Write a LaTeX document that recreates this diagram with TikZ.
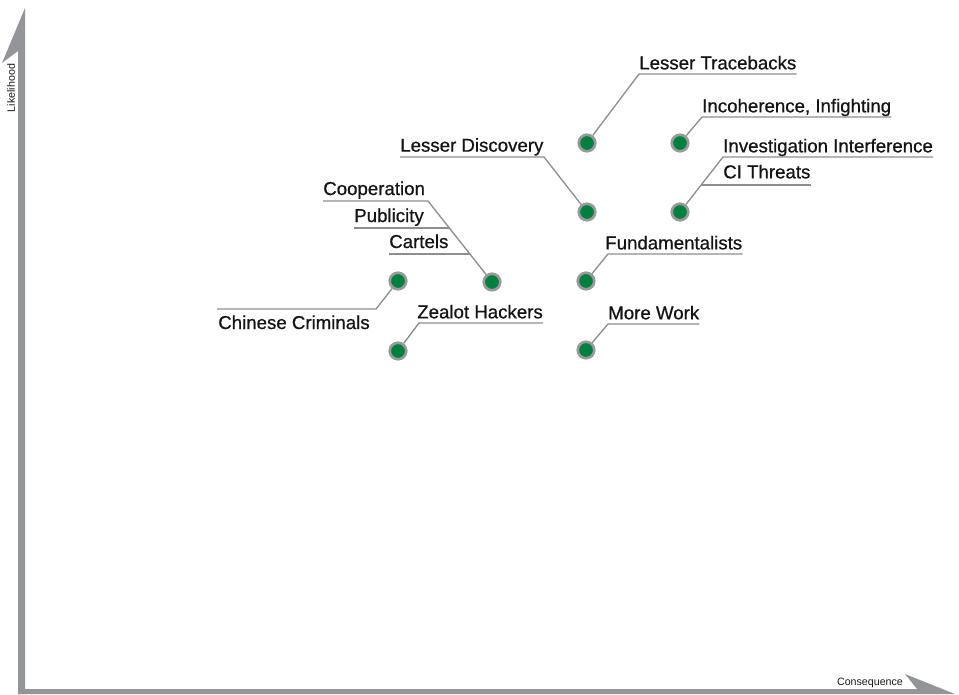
\documentclass[tikz,border=0pt]{standalone}
\usepackage{fontspec}
\setmainfont{Liberation Sans}
\newfontfamily\lblfont{Liberation Sans}[FakeBold=0.7]
\usetikzlibrary{positioning}
\definecolor{axisgray}{HTML}{939598}
\definecolor{leadgray}{HTML}{8E8E8E}
\definecolor{ringgray}{HTML}{9A9A9A}
\definecolor{riskgreen}{HTML}{00803E}

\begin{document}
\begin{tikzpicture}[x=0.75pt, y=-0.75pt,
	dot/.style={circle, fill=riskgreen, draw=ringgray, line width=2pt, minimum size=12.4pt, inner sep=0pt},
	lbl/.style={inner sep=0pt, font=\lblfont\fontsize{14}{16}\selectfont, text=black!92},
	axlbl/.style={inner sep=0pt, font=\fontsize{8}{9}\selectfont, text=black!90},
	lead/.style={draw=leadgray, line width=1pt}]
			%%%%% START %%%%%
			
			\useasboundingbox (0, 0) rectangle (959, 694);
			
			\fill[axisgray] (25, 694) -- (25, 8) -- (2, 63) -- (18, 51) -- (18, 694) -- cycle;
			\fill[axisgray] (18, 689) -- (917, 689) -- (905, 674) -- (955, 694) -- (18, 694) -- cycle;
			
			\node[axlbl, rotate=90] (likely) at (11, 88) {Likelihood};
			\node[axlbl] (conseq) at (870, 683) {Consequence};
			
			\node[dot] (tb) at (587, 143) {};
			\coordinate (tbk) at (639, 74);
			\node[lbl, anchor=base west, yshift=3.5pt] (tbl) at (tbk) {Lesser Tracebacks};
			\draw[lead] (tb) -- (tbk) -- (tbk -| tbl.east);
			
			\node[dot] (inc) at (680, 143) {};
			\coordinate (inck) at (702, 117);
			\node[lbl, anchor=base west, yshift=3.5pt] (incl) at (inck) {Incoherence, Infighting};
			\draw[lead] (inc) -- (inck) -- (inck -| incl.east);
			
			\node[dot] (ci) at (680, 212) {};
			\coordinate (ivk) at (723, 157);
			\coordinate (cik) at (701, 185);
			\node[lbl, anchor=base west, yshift=3.5pt] (ivl) at (ivk) {Investigation Interference};
			\node[lbl, anchor=base west, yshift=5pt] (cil) at (723, 185) {CI Threats};
			\draw[lead] (ci) -- (ivk) -- (ivk -| ivl.east);
			\draw[lead] (cik) -- (cik -| cil.east);
			
			\node[dot] (ld) at (587, 212) {};
			\coordinate (ldk) at (544, 157);
			\node[lbl, anchor=base west, yshift=4pt] (ldl) at (400, 157) {Lesser Discovery};
			\draw[lead] (ld) -- (ldk) -- (ldk -| ldl.west);
			
			\node[dot] (fu) at (586, 281) {};
			\coordinate (fuk) at (608, 254);
			\node[lbl, anchor=base west, yshift=3.5pt] (ful) at (605, 254) {Fundamentalists};
			\draw[lead] (fu) -- (fuk) -- (fuk -| ful.east);
			
			\node[dot] (mw) at (586, 350) {};
			\coordinate (mwk) at (608, 324);
			\node[lbl, anchor=base west, yshift=3.5pt] (mwl) at (mwk) {More Work};
			\draw[lead] (mw) -- (mwk) -- (mwk -| mwl.east);
			
			\node[dot] (ca) at (492, 282) {};
			\coordinate (cok) at (428, 201);
			\coordinate (puk) at (449, 228);
			\coordinate (cak) at (470, 254);
			\node[lbl, anchor=base west, yshift=4.5pt] (col) at (323, 201) {Cooperation};
			\node[lbl, anchor=base west, yshift=4.5pt] (pul) at (354, 228) {Publicity};
			\node[lbl, anchor=base west, yshift=4.5pt] (cal) at (389, 254) {Cartels};
			\draw[lead] (ca) -- (cok) -- (cok -| col.west);
			\draw[lead] (puk) -- (puk -| pul.west);
			\draw[lead] (cak) -- (cak -| cal.west);
			
			\node[dot] (cc) at (398, 281) {};
			\coordinate (cck) at (376, 309);
			\node[lbl, anchor=base west] (ccl) at (218, 329) {Chinese Criminals};
			\draw[lead] (cc) -- (cck) -- (217, 309);
			
			\node[dot] (zh) at (398, 351) {};
			\coordinate (zhk) at (419, 323);
			\node[lbl, anchor=base west, yshift=3.5pt] (zhl) at (417, 323) {Zealot Hackers};
			\draw[lead] (zh) -- (zhk) -- (zhk -| zhl.east);
			
			%%%%% END %%%%%
		\end{tikzpicture}
\end{document}
